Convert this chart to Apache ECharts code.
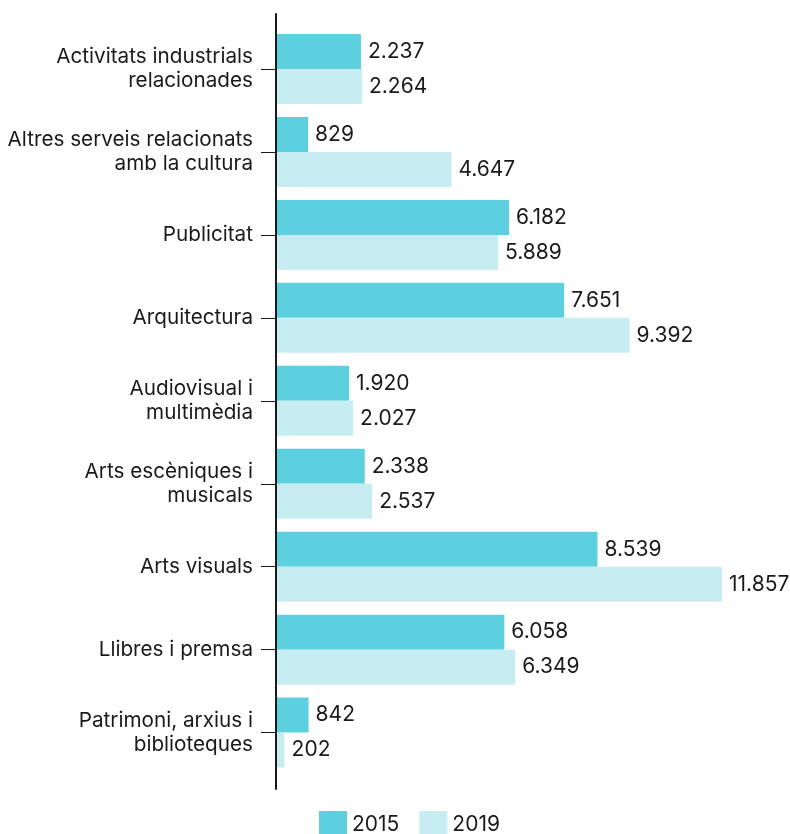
<!DOCTYPE html>
<html>
<head>
<meta charset="utf-8">
<script src="https://cdn.jsdelivr.net/npm/echarts@6/dist/echarts.min.js"></script>
<style>
html,body{margin:0;padding:0;background:#fff;}
#chart{width:790px;height:834px;}
</style>
</head>
<body>
<div id="chart"></div>
<script>
const categories = [
  "Activitats industrials\nrelacionades",
  "Altres serveis relacionats\namb la cultura",
  "Publicitat",
  "Arquitectura",
  "Audiovisual i\nmultimèdia",
  "Arts escèniques i\nmusicals",
  "Arts visuals",
  "Llibres i premsa",
  "Patrimoni, arxius i\nbiblioteques"
];
const seriesNames = ["2015", "2019"];
const values2015 = [2237, 829, 6182, 7651, 1920, 2338, 8539, 6058, 842];
const values2019 = [2264, 4647, 5889, 9392, 2027, 2537, 11857, 6349, 202];

const FONT = "Inter, 'Noto Sans', sans-serif";
const TXT = "#1a1a1a";
function fmt(v) {
  return String(v).replace(/\B(?=(\d{3})+(?!\d))/g, ".");
}
const chart = echarts.init(document.getElementById('chart'), null, {renderer: 'canvas'});
const labelCfg = {
  show: true, position: 'right', distance: 7,
  fontFamily: FONT, fontSize: 21, color: TXT,
  formatter: p => fmt(p.value)
};
chart.setOption({
  animation: false,
  textStyle: {fontFamily: FONT},
  legend: {
    data: seriesNames,
    left: 314, top: 806,
    itemWidth: 28, itemHeight: 28, itemGap: 20,
    icon: 'rect',
    textStyle: {fontFamily: FONT, fontSize: 21, color: TXT}
  },
  grid: [
    {left: 277, right: 68, top: 27.5, height: 746.6},
    {left: 276, right: 68, top: 14, height: 775}
  ],
  xAxis: [
    {type: 'value', gridIndex: 0, min: 0, max: 'dataMax', show: false},
    {type: 'value', gridIndex: 1, min: 0, max: 1, show: false}
  ],
  yAxis: [
    {
      type: 'category', gridIndex: 0, data: categories, inverse: true,
      axisLine: {show: false},
      axisTick: {show: true, alignWithLabel: true, length: 16, lineStyle: {color: TXT, width: 1}},
      axisLabel: {margin: 24, fontFamily: FONT, fontSize: 20.7, lineHeight: 24, color: TXT, align: 'right'},
      splitLine: {show: false}
    },
    {
      type: 'value', gridIndex: 1, min: 0, max: 1,
      axisLine: {show: true, lineStyle: {color: TXT, width: 2}},
      axisTick: {show: false}, axisLabel: {show: false}, splitLine: {show: false}
    }
  ],
  series: [
    {
      name: seriesNames[0], type: 'bar', data: values2015,
      xAxisIndex: 0, yAxisIndex: 0,
      barWidth: 35, barGap: '0%',
      itemStyle: {color: '#5dd0df'},
      label: labelCfg
    },
    {
      name: seriesNames[1], type: 'bar', data: values2019,
      xAxisIndex: 0, yAxisIndex: 0,
      barWidth: 35, barGap: '0%',
      itemStyle: {color: '#c7edf3'},
      label: labelCfg
    }
  ]
});
</script>
</body>
</html>
